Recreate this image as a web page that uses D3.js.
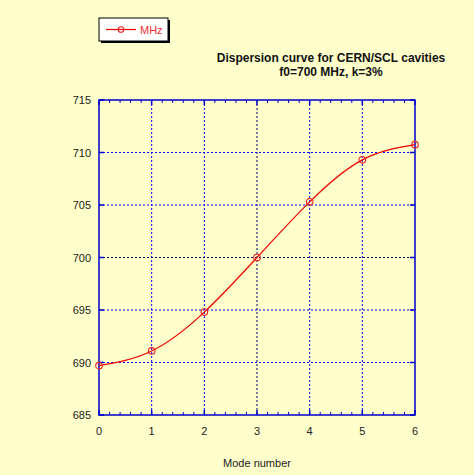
<!DOCTYPE html>
<html>
<head>
<meta charset="utf-8">
<script src="https://cdn.jsdelivr.net/npm/d3@7"></script>
<style>
  body { margin: 0; background: #ffffcc; }
  text { font-family: "Liberation Sans", Arial, sans-serif; }
</style>
</head>
<body>
<div id="chart"></div>
<script>
// values
const modes = [0, 1, 2, 3, 4, 5, 6];
const freqMHz = [689.7, 691.1, 694.8, 700.0, 705.3, 709.3, 710.75];
const yTicks = [685, 690, 695, 700, 705, 710, 715];
const xTicks = [0, 1, 2, 3, 4, 5, 6];
const seriesName = "MHz";
const titleLines = ["Dispersion curve for CERN/SCL cavities", "f0=700 MHz, k=3%"];
const xLabel = "Mode number";

function drawChart() {
    const svgWidth = 474, svgHeight = 475;
    const margin = { top: 100, right: 59, bottom: 60, left: 99 };
    const width = svgWidth - margin.left - margin.right;
    const height = svgHeight - margin.top - margin.bottom;

    const svg = d3.select("#chart").append("svg")
        .attr("width", svgWidth)
        .attr("height", svgHeight);

    svg.append("rect")
        .attr("width", svgWidth).attr("height", svgHeight)
        .attr("fill", "#ffffcc");

    const g = svg.append("g")
        .attr("transform", `translate(${margin.left}, ${margin.top})`);

    const x = d3.scaleLinear().domain([0, 6]).range([0, width]);
    const y = d3.scaleLinear().domain([685, 715]).range([height, 0]);

    // grid, the middle lines are darker
    g.selectAll(".vgrid").data(xTicks.slice(1, -1)).enter()
        .append("line")
        .attr("x1", d => x(d)).attr("x2", d => x(d))
        .attr("y1", 0).attr("y2", height)
        .attr("stroke", d => d === 3 ? "#000066" : "#0000ff")
        .attr("stroke-width", 1)
        .attr("stroke-dasharray", "2,2");

    g.selectAll(".hgrid").data(yTicks.slice(1, -1)).enter()
        .append("line")
        .attr("x1", 0).attr("x2", width)
        .attr("y1", d => y(d)).attr("y2", d => y(d))
        .attr("stroke", d => d === 700 ? "#000066" : "#0000ff")
        .attr("stroke-width", 1)
        .attr("stroke-dasharray", "2,2");

    // minor ticks on bottom and top
    const minor = d3.range(0, 6.001, 0.2).filter(v => Math.abs(v - Math.round(v)) > 0.01);
    g.selectAll(".minB").data(minor).enter().append("line")
        .attr("x1", d => x(d)).attr("x2", d => x(d))
        .attr("y1", height).attr("y2", height - 3)
        .attr("stroke", "#0000cc").attr("stroke-width", 1);
    g.selectAll(".minT").data(minor).enter().append("line")
        .attr("x1", d => x(d)).attr("x2", d => x(d))
        .attr("y1", 0).attr("y2", 3)
        .attr("stroke", "#0000cc").attr("stroke-width", 1);

    // major ticks, inward
    g.selectAll(".majB").data(xTicks).enter().append("line")
        .attr("x1", d => x(d)).attr("x2", d => x(d))
        .attr("y1", height).attr("y2", height - 5)
        .attr("stroke", "#0000cc").attr("stroke-width", 1.5);
    g.selectAll(".majT").data(xTicks).enter().append("line")
        .attr("x1", d => x(d)).attr("x2", d => x(d))
        .attr("y1", 0).attr("y2", 5)
        .attr("stroke", "#0000cc").attr("stroke-width", 1.5);
    g.selectAll(".majL").data(yTicks).enter().append("line")
        .attr("x1", 0).attr("x2", 5)
        .attr("y1", d => y(d)).attr("y2", d => y(d))
        .attr("stroke", "#0000cc").attr("stroke-width", 1.5);
    g.selectAll(".majR").data(yTicks).enter().append("line")
        .attr("x1", width).attr("x2", width - 5)
        .attr("y1", d => y(d)).attr("y2", d => y(d))
        .attr("stroke", "#0000cc").attr("stroke-width", 1.5);

    // frame
    g.append("rect")
        .attr("width", width).attr("height", height)
        .attr("fill", "none")
        .attr("stroke", "#0000cc")
        .attr("stroke-width", 1.5);

    // tick labels
    g.selectAll(".ylab").data(yTicks).enter().append("text")
        .attr("x", -8).attr("y", d => y(d) + 4)
        .attr("text-anchor", "end")
        .attr("font-size", 11)
        .attr("fill", "#222")
        .text(d => d);
    g.selectAll(".xlab").data(xTicks).enter().append("text")
        .attr("x", d => x(d)).attr("y", height + 20)
        .attr("text-anchor", "middle")
        .attr("font-size", 11)
        .attr("fill", "#222")
        .text(d => d);

    svg.append("text")
        .attr("x", margin.left + x(3)).attr("y", 467)
        .attr("text-anchor", "middle")
        .attr("font-size", 11)
        .attr("fill", "#222")
        .text(xLabel);

    // data
    const data = modes.map((m, i) => ({ m: m, f: freqMHz[i] }));
    const line = d3.line()
        .x(d => x(d.m)).y(d => y(d.f))
        .curve(d3.curveNatural);

    g.append("path")
        .datum(data)
        .attr("d", line)
        .attr("fill", "none")
        .attr("stroke", "#ee0000")
        .attr("stroke-width", 1.2);

    g.selectAll(".pt").data(data).enter().append("circle")
        .attr("cx", d => x(d.m)).attr("cy", d => y(d.f))
        .attr("r", 3.3)
        .attr("fill", "none")
        .attr("stroke", "#ee2222")
        .attr("stroke-width", 1.1);

    // title
    const title = svg.append("text")
        .attr("text-anchor", "middle")
        .attr("font-size", 12)
        .attr("font-weight", "bold")
        .attr("fill", "#111");
    titleLines.forEach((t, i) => {
        title.append("tspan").attr("x", 331).attr("y", 62 + i * 14).text(t);
    });

    // legend
    const lg = svg.append("g").attr("transform", "translate(99, 18)");
    lg.append("rect").attr("x", 2).attr("y", 2).attr("width", 69).attr("height", 23).attr("fill", "#000");
    lg.append("rect").attr("x", 0).attr("y", 0).attr("width", 69).attr("height", 23)
        .attr("fill", "#fff").attr("stroke", "#000").attr("stroke-width", 1);
    lg.append("line").attr("x1", 7).attr("x2", 37).attr("y1", 11.5).attr("y2", 11.5)
        .attr("stroke", "#ee0000").attr("stroke-width", 1.2);
    lg.append("circle").attr("cx", 22).attr("cy", 11.5).attr("r", 2.8)
        .attr("fill", "none").attr("stroke", "#ee2222").attr("stroke-width", 1.1);
    lg.append("text").attr("x", 41).attr("y", 15.5)
        .attr("font-size", 11).attr("fill", "#ee3333")
        .text(seriesName);
}

document.addEventListener("DOMContentLoaded", drawChart);
</script>
</body>
</html>
